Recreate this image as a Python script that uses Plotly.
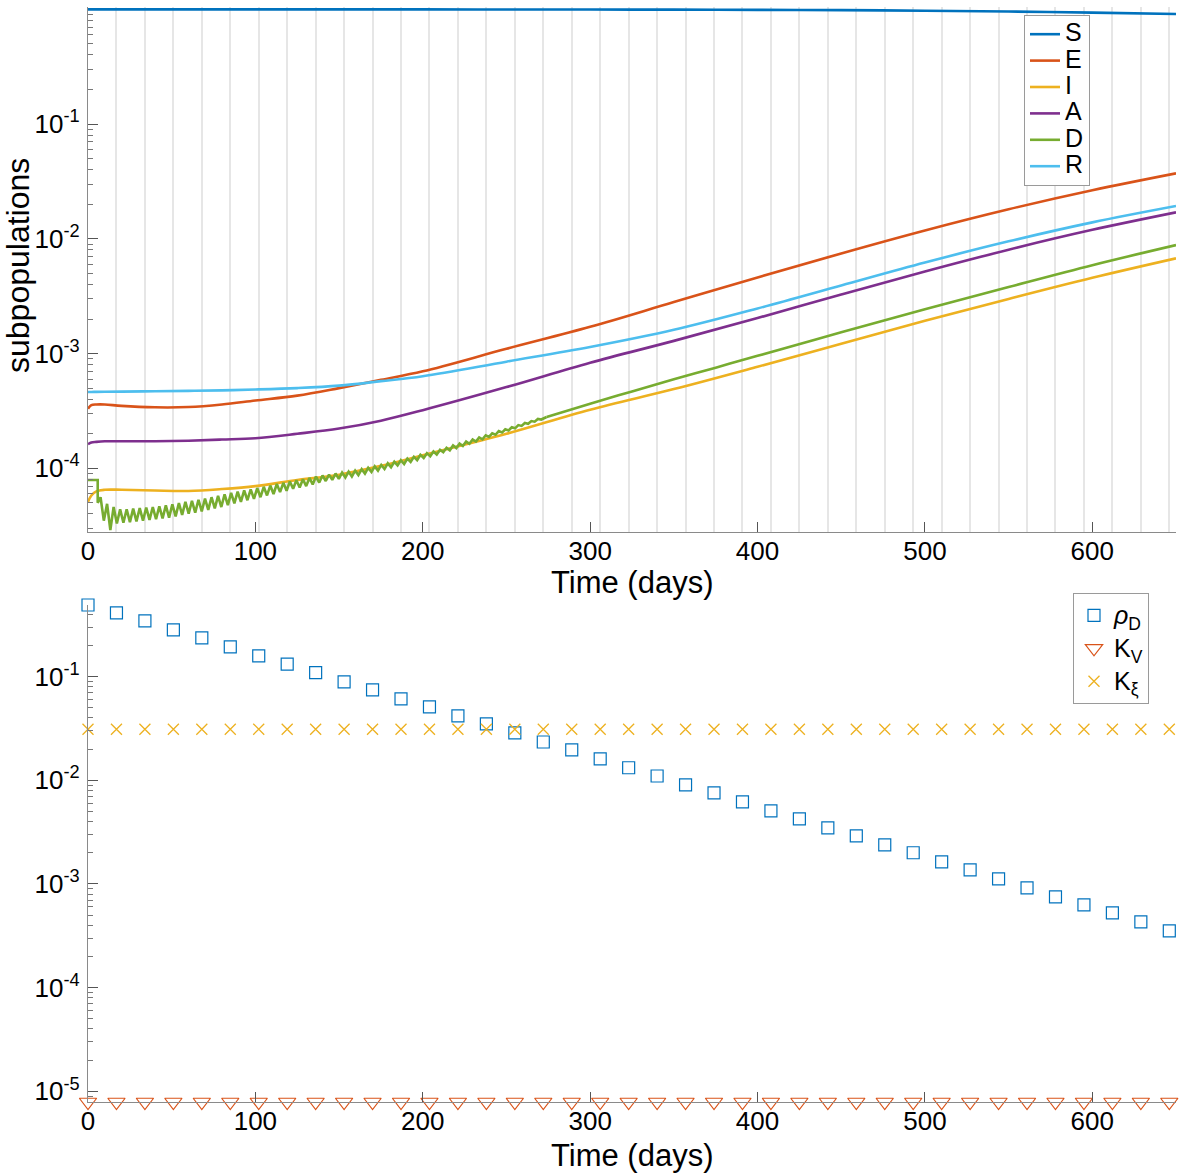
import numpy as np
import plotly.graph_objects as go

# ---------------- data ----------------
days_smooth = [0, 2, 5, 10, 20, 40, 60, 80, 100, 125, 150, 175, 200, 250, 300, 350, 400, 450, 500, 550, 600, 650]
S_vals = [0.9989, 0.9989, 0.9989, 0.9989, 0.9989, 0.9989, 0.9989, 0.9988, 0.9988, 0.9986, 0.9984, 0.9981, 0.9978,
          0.9968, 0.9955, 0.993, 0.9893, 0.983, 0.972, 0.956, 0.936, 0.91]
E_vals = [3.3e-4, 3.55e-4, 3.6e-4, 3.6e-4, 3.5e-4, 3.4e-4, 3.42e-4, 3.6e-4, 3.9e-4, 4.3e-4, 5.0e-4, 5.9e-4, 7.0e-4,
          1.1e-3, 1.71e-3, 2.81e-3, 4.6e-3, 7.46e-3, 1.183e-2, 1.81e-2, 2.65e-2, 3.72e-2]
I_vals = [5.1e-5, 5.8e-5, 6.3e-5, 6.5e-5, 6.5e-5, 6.4e-5, 6.35e-5, 6.6e-5, 7.0e-5, 7.9e-5, 8.8e-5, 1.05e-4, 1.3e-4,
          2.0e-4, 3.24e-4, 4.9e-4, 7.67e-4, 1.216e-3, 1.93e-3, 2.99e-3, 4.57e-3, 6.75e-3]
A_vals = [1.62e-4, 1.68e-4, 1.7e-4, 1.72e-4, 1.72e-4, 1.72e-4, 1.74e-4, 1.78e-4, 1.83e-4, 2.0e-4, 2.22e-4, 2.6e-4, 3.21e-4,
          5.1e-4, 8.32e-4, 1.29e-3, 2.04e-3, 3.27e-3, 5.19e-3, 8.04e-3, 1.197e-2, 1.7e-2]
R_vals = [4.63e-4, 4.63e-4, 4.64e-4, 4.65e-4, 4.66e-4, 4.69e-4, 4.73e-4, 4.78e-4, 4.86e-4, 5.0e-4, 5.25e-4, 5.75e-4, 6.35e-4,
          8.5e-4, 1.14e-3, 1.61e-3, 2.47e-3, 3.92e-3, 6.21e-3, 9.5e-3, 1.39e-2, 1.93e-2]

# D: initial plateau, then saw-tooth (peaks / troughs, units of 1e-5), then smooth tail
D_head_days = [0, 5.8, 5.8]
D_head_vals = [7.9e-5, 7.9e-5, 5.0e-5]
D_peaks_e5 = [5.6, 4.9, 4.6, 4.4, 4.4, 4.45, 4.5, 4.55, 4.6, 4.67,
              4.75, 4.86, 4.98, 5.1, 5.2, 5.32, 5.44, 5.6, 5.75, 5.92,
              6.1, 6.26, 6.43, 6.56, 6.73, 6.9, 7.07, 7.3, 7.47, 7.68,
              7.86, 8.03, 8.24, 8.47, 8.65, 8.82, 9.0, 9.17, 9.34, 9.55,
              9.82, 10.1, 10.4, 10.7, 11.05, 11.4, 11.75, 12.15, 12.6, 13.1,
              13.55, 14.0, 14.5, 15.1, 15.8, 16.4, 17.1, 17.8, 18.6, 19.4,
              20.2, 21.1, 21.9, 22.8, 23.8, 24.8, 25.8, 26.9]
D_troughs_e5 = [3.5, 2.9, 3.3, 3.35, 3.4, 3.45, 3.5, 3.55, 3.6, 3.66,
                3.72, 3.81, 3.93, 4.03, 4.11, 4.22, 4.34, 4.47, 4.6, 4.77,
                4.95, 5.11, 5.27, 5.41, 5.6, 5.8, 5.97, 6.2, 6.37, 6.63,
                6.81, 7.0, 7.24, 7.52, 7.75, 7.92, 8.1, 8.32, 8.49, 8.73,
                8.98, 9.3, 9.55, 9.85, 10.2, 10.6, 10.9, 11.35, 11.8, 12.3,
                12.75, 13.2, 13.8, 14.35, 15.0, 15.65, 16.35, 17.1, 17.9, 18.75,
                19.6, 20.5, 21.4, 22.3, 23.4, 24.4, 25.5, 26.6]
D_tooth_start = 7.5
D_tooth_period = 3.9
D_tail_days = [274.0, 300, 325, 350, 375, 400, 450, 500, 550, 600, 650]
D_tail_vals = [2.8e-4, 3.65e-4, 4.68e-4, 5.96e-4, 7.54e-4, 9.55e-4, 1.53e-3, 2.43e-3, 3.8e-3, 5.89e-3, 8.81e-3]

# bottom panel
ctrl_days = [17 * k for k in range(39)]
rho_D = [0.49, 0.411, 0.344, 0.282, 0.236, 0.193, 0.158, 0.132, 0.109, 0.0889,
         0.0745, 0.061, 0.051, 0.0418, 0.035, 0.0286, 0.0234, 0.0196, 0.0161, 0.0132,
         0.011, 0.00903, 0.00756, 0.0062, 0.00507, 0.00425, 0.00348, 0.00291, 0.00238, 0.002,
         0.00163, 0.00137, 0.00112, 0.000918, 0.00075, 0.000629, 0.000526, 0.000431, 0.000353]
K_V = [7.9e-6] * 39
K_xi = [0.0311] * 39

x_ticks = [0, 100, 200, 300, 400, 500, 600]
top_yticks = [1e-4, 1e-3, 1e-2, 1e-1]
bot_yticks = [1e-5, 1e-4, 1e-3, 1e-2, 1e-1]

# ---------------- build saw-tooth sequence ----------------
zig_days, zig_vals = [], []
for k, (p, t) in enumerate(zip(D_peaks_e5, D_troughs_e5)):
    d0 = D_tooth_start + D_tooth_period * k
    zig_days += [d0, d0 + D_tooth_period / 2]
    zig_vals += [p * 1e-5, t * 1e-5]
D_days = D_head_days + zig_days + [D_tail_days[0]]
D_vals = D_head_vals + zig_vals + [D_tail_vals[0]]

C = dict(S="#0072BD", E="#D95319", I="#EDB120", A="#7E2F8E", D="#77AC30", R="#4DBEEE")
FONT = "Liberation Sans, Arial, Helvetica, sans-serif"
LW = 2.6
SM = 1.0

def big(txt, px):
    return '<span style="font-size:%dpx">%s</span>' % (px, txt)

fig = go.Figure()
for name, vals in [("S", S_vals), ("E", E_vals), ("I", I_vals), ("A", A_vals)]:
    fig.add_trace(go.Scatter(x=days_smooth, y=vals, mode="lines", name=big(name, 25),
                             line=dict(color=C[name], width=LW, shape="spline", smoothing=SM),
                             xaxis="x", yaxis="y", legend="legend"))
fig.add_trace(go.Scatter(x=D_days, y=D_vals, mode="lines", name=big("D", 25),
                         line=dict(color=C["D"], width=LW), xaxis="x", yaxis="y", legend="legend"))
fig.add_trace(go.Scatter(x=D_tail_days, y=D_tail_vals, mode="lines", showlegend=False,
                         line=dict(color=C["D"], width=LW, shape="spline", smoothing=SM),
                         xaxis="x", yaxis="y"))
fig.add_trace(go.Scatter(x=days_smooth, y=R_vals, mode="lines", name=big("R", 25),
                         line=dict(color=C["R"], width=LW, shape="spline", smoothing=SM),
                         xaxis="x", yaxis="y", legend="legend"))

fig.add_trace(go.Scatter(x=ctrl_days, y=rho_D, mode="markers", name=big("<i>ρ</i><sub>D</sub>", 25),
                         marker=dict(symbol="square-open", size=12, color=C["S"], line=dict(width=1.2)),
                         xaxis="x2", yaxis="y2", legend="legend2", cliponaxis=False))
fig.add_trace(go.Scatter(x=ctrl_days, y=K_V, mode="markers", name=big("K<sub>V</sub>", 25),
                         marker=dict(symbol="triangle-down-open", size=15, color=C["E"], line=dict(width=1.2)),
                         xaxis="x2", yaxis="y2", legend="legend2", cliponaxis=False))
fig.add_trace(go.Scatter(x=ctrl_days, y=K_xi, mode="markers", name=big("K<sub>ξ</sub>", 25),
                         marker=dict(symbol="x-thin-open", size=11, color=C["I"], line=dict(width=1.3)),
                         xaxis="x2", yaxis="y2", legend="legend2", cliponaxis=False))

W, H = 1181, 1176
xdom = [88 / W, 1176 / W]
top_dom = [1 - 532 / H, 1 - 7 / H]
bot_dom = [1 - 1102 / H, 1 - 605 / H]

def minor_vals(lo, hi):
    out = []
    for e in range(lo, hi + 1):
        for m in range(2, 10):
            out.append(m * 10.0 ** e)
    return out

tickfont = dict(family=FONT, size=26, color="black")

def xaxis(anchor, grid):
    d = dict(domain=xdom, range=[0, 650], anchor=anchor, tickmode="array", tickvals=x_ticks,
             ticktext=[str(v) for v in x_ticks], ticks="inside", ticklen=10, tickwidth=1, tickcolor="#555",
             showline=True, linecolor="#8a8a8a", linewidth=1.2, showgrid=False, zeroline=False,
             tickfont=tickfont, ticklabelstandoff=-4)
    if grid:
        d["minor"] = dict(tickmode="array", tickvals=[17 * k for k in range(1, 39)], showgrid=True,
                          gridcolor="#e6e6e6", gridwidth=1.5, ticks="")
    return d

def yaxis(anchor, dom, rng, tv, mlo, mhi):
    return dict(domain=dom, type="log", range=rng, anchor=anchor, tickmode="array", tickvals=tv,
                ticktext=["10<sup>-%d</sup>" % round(-np.log10(v)) for v in tv],
                ticks="inside", ticklen=10, tickwidth=1, tickcolor="#555",
                showline=True, linecolor="#8a8a8a", linewidth=1.2, showgrid=False, zeroline=False,
                tickfont=tickfont, ticklabelstandoff=2,
                minor=dict(tickmode="array", tickvals=minor_vals(mlo, mhi), ticks="inside", ticklen=5,
                           tickcolor="#777", showgrid=False))

fig.update_layout(
    width=W, height=H, margin=dict(l=0, r=0, t=0, b=0, autoexpand=False),
    plot_bgcolor="white", paper_bgcolor="white",
    font=dict(family=FONT, color="black"),
    xaxis=xaxis("y", True),
    yaxis=yaxis("x", top_dom, [-4.555, 0.02], top_yticks, -5, -1),
    xaxis2=xaxis("y2", False),
    yaxis2=yaxis("x2", bot_dom, [np.log10(7.9e-6), np.log10(0.49)], bot_yticks, -6, -1),
    legend=dict(x=1057 / W, y=1 - 15 / H, xanchor="center", yanchor="top", bgcolor="white",
                bordercolor="#9a9a9a", borderwidth=1, font=dict(family=FONT, size=18),
                itemwidth=30, tracegroupgap=0),
    legend2=dict(x=1111 / W, y=1 - 593 / H, xanchor="center", yanchor="top", bgcolor="white",
                 bordercolor="#9a9a9a", borderwidth=1, font=dict(family=FONT, size=23),
                 itemwidth=30, tracegroupgap=0),
    showlegend=True,
    annotations=[
        dict(text="Time (days)", x=632 / W, y=1 - 582 / H, xref="paper", yref="paper",
             showarrow=False, font=dict(family=FONT, size=31), xanchor="center", yanchor="middle"),
        dict(text="Time (days)", x=632 / W, y=1 - 1155 / H, xref="paper", yref="paper",
             showarrow=False, font=dict(family=FONT, size=31), xanchor="center", yanchor="middle"),
        dict(text="subpopulations", x=18 / W, y=1 - 266 / H, xref="paper", yref="paper",
             showarrow=False, textangle=-90, font=dict(family=FONT, size=32),
             xanchor="center", yanchor="middle"),
    ],
)

fig.write_html("out.html", config={"displayModeBar": False},
               post_script="document.body.style.margin='0';document.body.style.overflow='hidden';")
